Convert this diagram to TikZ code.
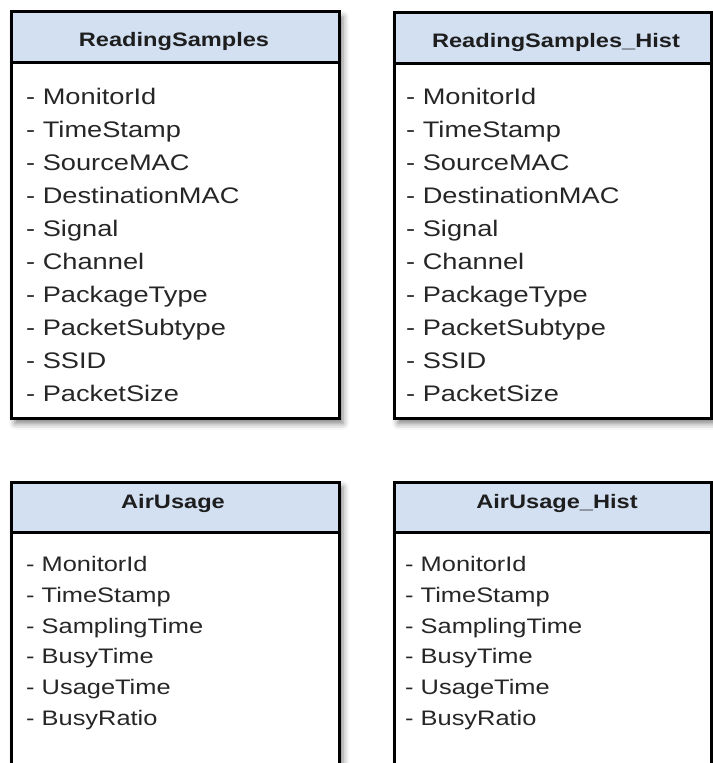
\documentclass[tikz,border=0pt]{standalone}
\usepackage{fontspec}
\setmainfont{Liberation Sans}
\newfontfamily\wfont[FakeStretch=1.21]{Liberation Sans}
\usetikzlibrary{shadows.blur}
\definecolor{hdrblue}{RGB}{210,224,242}
\definecolor{txtgray}{RGB}{38,38,38}
\definecolor{ttlgray}{RGB}{30,30,30}
\begin{document}
\begin{tikzpicture}[x=1bp,y=-1bp,
  tbl/.style={draw=black, line width=3bp, fill=white, outer sep=0pt, inner sep=0pt, anchor=north west,
    blur shadow={shadow xshift=4bp, shadow yshift=-5bp, shadow blur radius=6bp, shadow opacity=50}},
  hdr/.style={fill=hdrblue, draw=black, line width=3bp, outer sep=0pt, inner sep=0pt, anchor=north west},
  htitle/.style={font=\wfont\bfseries\fontsize{19.5bp}{22bp}\selectfont, text=ttlgray, anchor=base, inner sep=0pt},
  fieldA/.style={font=\wfont\fontsize{22.5bp}{26bp}\selectfont, text=txtgray, anchor=base west, inner sep=0pt},
  fieldB/.style={font=\wfont\fontsize{21bp}{25bp}\selectfont, text=txtgray, anchor=base west, inner sep=0pt}]
\useasboundingbox (0,0) rectangle (713,763);
\begin{scope}
\clip (0,0) rectangle (713,763);
% ReadingSamples
\node[tbl, minimum width=328bp, minimum height=406.5bp] (rs) at (11,12) {};
\node[hdr, minimum width=328bp, minimum height=50.5bp] (rsh) at (11,12) {};
\node[htitle] (rst) at (174,47) {ReadingSamples};
\foreach \t [count=\i from 0] in {MonitorId,TimeStamp,SourceMAC,DestinationMAC,Signal,Channel,PackageType,PacketSubtype,SSID,PacketSize}
  \node[fieldA] (rs-f\i) at (26,{104+33*\i}) {- \t};
% ReadingSamples_Hist
\node[tbl, minimum width=317.5bp, minimum height=406bp] (rsx) at (394,12.5) {};
\node[hdr, minimum width=317.5bp, minimum height=50.5bp] (rsxh) at (394,12.5) {};
\node[htitle] (rsxt) at (556,47.5) {ReadingSamples\_Hist};
\foreach \t [count=\i from 0] in {MonitorId,TimeStamp,SourceMAC,DestinationMAC,Signal,Channel,PackageType,PacketSubtype,SSID,PacketSize}
  \node[fieldA] (rsx-f\i) at (406,{104+33*\i}) {- \t};
% AirUsage
\node[tbl, minimum width=328bp, minimum height=400bp] (au) at (11,482) {};
\node[hdr, minimum width=328bp, minimum height=50bp] (auh) at (11,482) {};
\node[htitle] (aut) at (173,508) {AirUsage};
\foreach \t [count=\i from 0] in {MonitorId,TimeStamp,SamplingTime,BusyTime,UsageTime,BusyRatio}
  \node[fieldB] (au-f\i) at (26,{571.7+30.7*\i}) {- \t};
% AirUsage_Hist
\node[tbl, minimum width=317.5bp, minimum height=400bp] (aux) at (394,482.5) {};
\node[hdr, minimum width=317.5bp, minimum height=49.5bp] (auxh) at (394,482.5) {};
\node[htitle] (auxt) at (557,508) {AirUsage\_Hist};
\foreach \t [count=\i from 0] in {MonitorId,TimeStamp,SamplingTime,BusyTime,UsageTime,BusyRatio}
  \node[fieldB] (aux-f\i) at (405,{571.7+30.7*\i}) {- \t};
\end{scope}
\end{tikzpicture}
\end{document}
